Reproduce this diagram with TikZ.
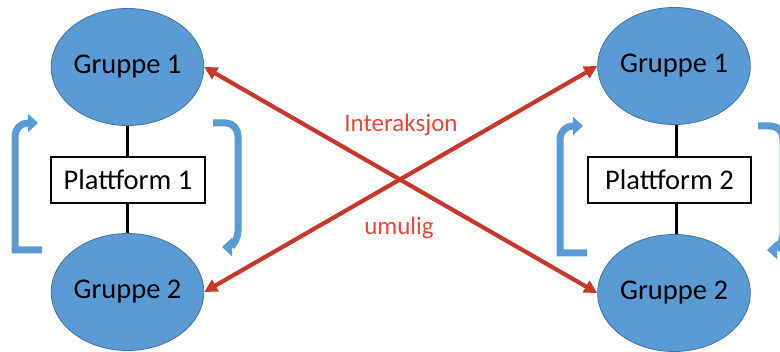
\documentclass[tikz,border=0pt]{standalone}
\usepackage{fontspec}
\setmainfont{Carlito}
\usetikzlibrary{arrows.meta,shapes.geometric}

\definecolor{grpfill}{HTML}{5B9BD5}
\definecolor{grpedge}{HTML}{41719C}
\definecolor{cyclecol}{HTML}{5B9BD5}
\definecolor{linkred}{HTML}{C4392B}
\definecolor{labelred}{HTML}{DE4A39}

\tikzset{
  group/.style={ellipse, fill=grpfill, draw=grpedge, line width=0.8pt,
    minimum width=140pt, minimum height=117pt, inner sep=0pt,
    font=\fontsize{28.5}{31}\selectfont},
  platform/.style={draw=black, fill=white, line width=1.5pt, minimum height=46pt,
    inner sep=0pt, font=\fontsize{28.5}{31}\selectfont},
  stem/.style={draw=black, line width=3pt},
  link/.style={draw=linkred, line width=4.2pt,
    {Triangle[length=13pt,width=13pt]}-{Triangle[length=13pt,width=13pt]}},
  linklabel/.style={text=labelred, font=\fontsize{25}{28}\selectfont, anchor=base},
  cyclearrow/.style={draw=cyclecol, line width=7pt, line join=miter,
    -{Triangle[length=10pt,width=18pt]}},
  cyclepair/.pic={
    % left bracket, turning upward into an arrow pointing right
    \draw[cyclearrow] (27,127) -- (0,127) -- (0,13)
      to[out=90,in=180] (13,0) -- (23,0);
    % right bracket, turning downward into an arrow pointing left
    \draw[cyclearrow] (198,0) -- (211,0) to[out=0,in=90] (223,13)
      -- (223,108) to[out=-90,in=0] (207,124);
  }
}

\begin{document}
\begin{tikzpicture}[x=1pt,y=-1pt]
  \useasboundingbox (0,0) rectangle (780,352);
  \clip (0,0) rectangle (780,352);

  % the two groups on each platform
  \node[group] (g1l) at (127.5,67) {Gruppe 1};
  \node[group] (g2l) at (127.5,292) {Gruppe 2};
  \node[group] (g1r) at (674,66) {Gruppe 1};
  \node[group] (g2r) at (674,293) {Gruppe 2};

  % platforms linking their groups
  \node[platform, minimum width=154pt] (p1) at (128,180) {Plattform 1};
  \node[platform, minimum width=163pt] (p2) at (669.5,180) {Plattform 2};
  \coordinate (s2) at (676,180);
  \draw[stem] (g1l.south) -- (p1.north -| g1l.south);
  \draw[stem] (p1.south -| g2l.north) -- (g2l.north);
  \draw[stem] (g1r.south -| s2) -- (p2.north -| s2);
  \draw[stem] (p2.south -| s2) -- (g2r.north -| s2);

  % circular flow around each platform
  \pic at (15,123) {cyclepair};
  \pic at (560,126) {cyclepair};

  % interaction across platforms is not possible
  \draw[link] (g1l.east) -- (g2r.west);
  \draw[link] (g2l.east) -- (g1r.west);
  \node[linklabel] (lab1) at (401,132) {Interaksjon};
  \node[linklabel] (lab2) at (399,235) {umulig};
\end{tikzpicture}
\end{document}
